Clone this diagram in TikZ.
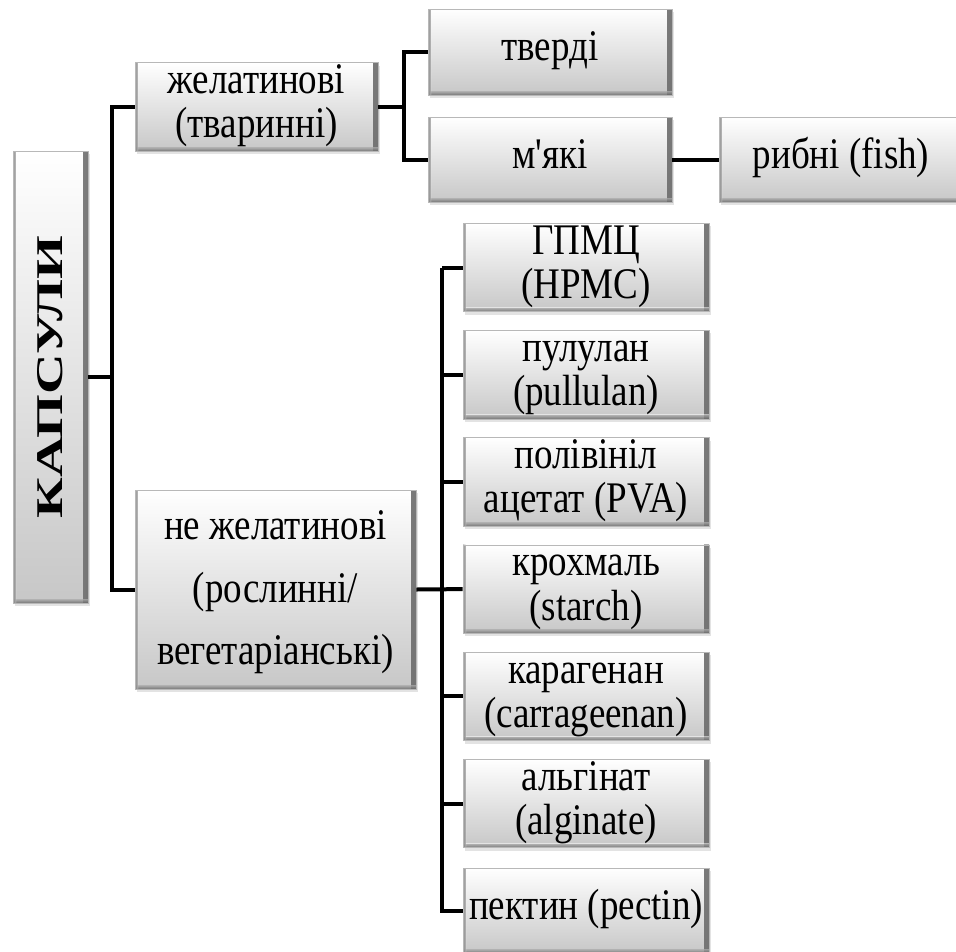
\documentclass[tikz,border=0pt]{standalone}
\usepackage{fontspec}
\setmainfont{Liberation Serif}
\newfontfamily\plainserif{Liberation Serif}
\usepackage{graphicx}
\usetikzlibrary{shadows}
\newcommand\vs[1]{\scalebox{1}[1.18]{\begin{tabular}{@{}c@{}}#1\end{tabular}}}
\tikzset{
  bx/.style={rectangle, inner sep=0pt, draw=black!28, line width=0.7pt,
    top color=white, bottom color=black!22,
    drop shadow={shadow xshift=1.5pt, shadow yshift=-3pt, opacity=0.22},
    font=\fontsize{37}{37.5}\selectfont,
    path picture={
      \fill[left color=white, right color=black!45, opacity=0.7]
        ([xshift=-5pt]path picture bounding box.north east) rectangle (path picture bounding box.south east);
      \fill[top color=white, bottom color=black!45, opacity=0.5]
        ([yshift=4pt]path picture bounding box.south west) rectangle (path picture bounding box.south east);
      \fill[left color=black!30, right color=white, opacity=0.6]
        (path picture bounding box.north west) rectangle ([xshift=3pt]path picture bounding box.south west);
    }},
  rbx/.style={bx, minimum width=246pt, minimum height=85pt},
  conn/.style={line width=4pt, line join=miter, draw=black}
}
\begin{document}
\begin{tikzpicture}[x=1pt, y=-1pt]
\clip (0,0) rectangle (956,951);
\useasboundingbox (0,0) rectangle (956,951);
\fill[white] (0,0) rectangle (956,951);

\node[bx, minimum width=75pt, minimum height=452pt] (kaps) at (50.5,377)
  {\rotatebox{90}{\resizebox{283pt}{25pt}{\bfseries КАПСУЛИ}}};
\node[bx, minimum width=243pt, minimum height=86pt] (gel) at (256.5,107)
  {\vs{желатинові\\(тваринні)}};
\node[bx, minimum width=281pt, minimum height=199pt, font=\fontsize{37}{53}\selectfont] (negel) at (275.5,589.5)
  {\vs{не желатинові\\(рослинні/\\вегетаріанські)}};
\node[bx, minimum width=244pt, minimum height=86pt] (tverdi) at (550,52)
  {\vs{тверді}};
\node[bx, minimum width=244pt, minimum height=85pt] (myaki) at (550,159.5)
  {\vs{м{\plainserif '}які}};
\node[bx, minimum width=244pt, minimum height=85pt] (fish) at (841,159.5)
  {\vs{рибні (fish)}};

\node[rbx] (r0) at (586,267.5) {\vs{ГПМЦ\\(HPMC)}};
\node[rbx] (r1) at (586,374.7) {\vs{пулулан\\(pullulan)}};
\node[rbx] (r2) at (586,481.9) {\vs{полівініл\\ацетат (PVA)}};
\node[rbx] (r3) at (586,589.1) {\vs{крохмаль\\(starch)}};
\node[rbx] (r4) at (586,696.3) {\vs{карагенан\\(carrageenan)}};
\node[rbx] (r5) at (586,803.5) {\vs{альгінат\\(alginate)}};
\node[rbx] (r6) at (586,910.7) {\vs{пектин (pectin)}};

\draw[conn] (kaps.east) -- +(24,0) coordinate (k1);
\draw[conn] (gel.west) -| (k1) |- (negel.west);
\draw[conn] (gel.east) -- +(26,0) coordinate (g1);
\draw[conn] (tverdi.west) -| (g1) |- (myaki.west);
\draw[conn] (myaki.east) -- (fish.west);
\draw[conn] (negel.east) -- (r3.west);
\draw[conn] (r0.west) -- +(-21,0) coordinate (v0);
\draw[conn] (v0) |- (r6.west);
\foreach \i in {1,2,4,5} \draw[conn] (r\i.west) -- (r\i.west -| v0);
\end{tikzpicture}
\end{document}
